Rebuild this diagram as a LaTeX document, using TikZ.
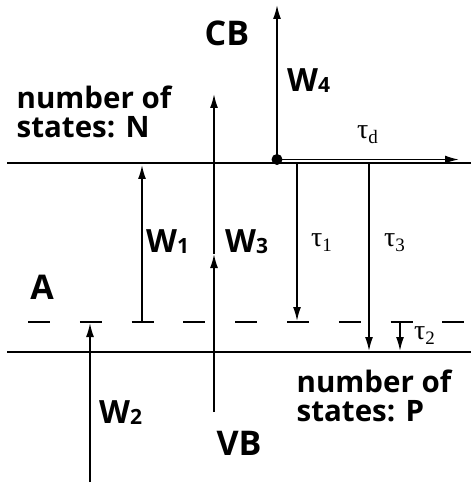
\documentclass[tikz,border=0pt]{standalone}
\usepackage{fontspec}
\setmainfont{Open Sans}
\newfontfamily\serifg{Liberation Serif}
\usetikzlibrary{arrows.meta}
\newcommand\Wlab[1]{W\raisebox{-1pt}{\fontsize{21}{21}\selectfont #1}}
\newcommand\taulab[1]{{\serifg\fontsize{28}{28}\selectfont τ\raisebox{-5pt}{\fontsize{19}{19}\selectfont #1}}}
\tikzset{
  band/.style={line width=2pt},
  arr/.style={line width=1.7pt,-{Latex[length=14pt,width=8pt]}},
  big/.style={font=\bfseries\fontsize{34}{36}\selectfont,inner sep=0pt},
  wl/.style={font=\bfseries\fontsize{32}{34}\selectfont,inner sep=0pt},
  txt/.style={font=\bfseries\fontsize{29.5}{29}\selectfont,inner sep=0pt,align=left},
  tl/.style={inner sep=0pt},
}
\begin{document}
\begin{tikzpicture}[x=1pt,y=-1pt]
\useasboundingbox (0,0) rectangle (471,486);
% bands
\coordinate (cbL) at (7,163); \coordinate (cbR) at (471,163);
\coordinate (vbL) at (7,352); \coordinate (vbR) at (471,352);
\draw[band] (cbL) -- (cbR);
\draw[band] (vbL) -- (vbR);
% acceptor level (dashed)
\coordinate (aL) at (28,322); \coordinate (aR) at (466,322);
\draw[line width=1.6pt,dash pattern=on 22pt off 29.8pt] (aL) -- (aR);
% W1
\coordinate (w1a) at (142,322); \coordinate (w1b) at (142,165);
\draw[arr] (w1a) -- (w1b);
% W2
\coordinate (w2a) at (90,482); \coordinate (w2b) at (90,323);
\draw[arr] (w2a) -- (w2b);
% W3
\coordinate (w3a) at (214,412); \coordinate (w3m) at (214,254); \coordinate (w3b) at (214,94);
\draw[arr] (w3a) -- (w3m);
\draw[arr] (w3m) -- (w3b);
% W4 and tau_d
\coordinate (dot) at (277,159.5);
\coordinate (w4b) at (277,5);
\coordinate (tdE) at (459,159.5);
\fill (dot) circle (5.5pt);
\draw[arr] (dot) -- (w4b);
\draw[arr] (dot) -- (tdE);
% tau1, tau3, tau2
\coordinate (t1a) at (297,163); \coordinate (t1b) at (297,321);
\draw[arr] (t1a) -- (t1b);
\coordinate (t3a) at (369,163); \coordinate (t3b) at (369,351);
\draw[arr] (t3a) -- (t3b);
\coordinate (t2a) at (400,322); \coordinate (t2b) at (400,351);
\draw[arr] (t2a) -- (t2b);
% labels
\node[big] (cb) at (227,33) {CB};
\node[big] (vb) at (239,443) {VB};
\node[big] (A) at (42,287) {A};
\node[txt] (nN) at (94,112) {number of\\states: N};
\node[txt] (nP) at (374,396) {number of\\states: P};
\node[wl,anchor=west] (W1) at (146,242) {\Wlab{1}};
\node[wl,anchor=west] (W3) at (225,242) {\Wlab{3}};
\node[wl,anchor=west] (W4) at (287,81) {\Wlab{4}};
\node[wl,anchor=west] (W2) at (99,413) {\Wlab{2}};
\node[tl,anchor=west] (td) at (357,135) {\taulab{d}};
\node[tl,anchor=west] (t1) at (311,243) {\taulab{1}};
\node[tl,anchor=west] (t3) at (384,243) {\taulab{3}};
\node[tl,anchor=west] (t2) at (414,336) {\taulab{2}};
\end{tikzpicture}
\end{document}
